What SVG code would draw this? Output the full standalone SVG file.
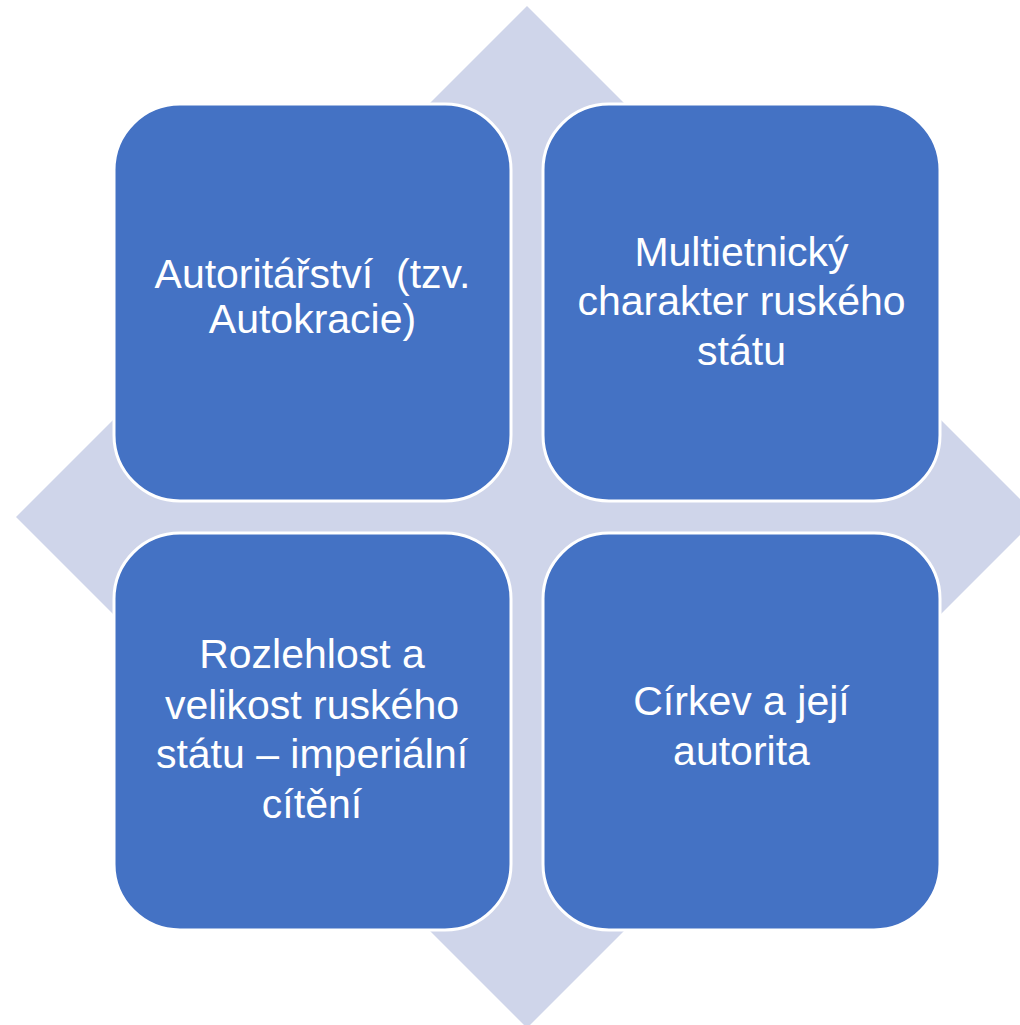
<svg xmlns="http://www.w3.org/2000/svg" width="1020" height="1025" viewBox="0 0 1020 1025">
<style>
.bg{fill:#CFD5EA}
.box{fill:#4472C4;stroke:#FFFFFF;stroke-width:3}
.t{fill:#FFFFFF;font-family:"Liberation Sans","DejaVu Sans",sans-serif;font-size:41px;text-anchor:middle;white-space:pre}
</style>
<rect width="1020" height="1025" fill="#FFFFFF"/>
<g id="diamond"><polygon class="bg" points="527,6 1038,517 527,1028 16,517"/></g>
<g id="connectors"></g>
<g id="node1">
<rect class="box" x="114" y="104" width="397" height="397" rx="66" ry="66"/>
<text class="t" xml:space="preserve"><tspan x="312.5" y="288">Autoritářství  (tzv.</tspan><tspan x="312.5" y="333">Autokracie)</tspan></text>
</g>
<g id="node2">
<rect class="box" x="543" y="104" width="397" height="397" rx="66" ry="66"/>
<text class="t"><tspan x="741.5" y="266">Multietnický</tspan><tspan x="741.5" y="315">charakter ruského</tspan><tspan x="741.5" y="365">státu</tspan></text>
</g>
<g id="node3">
<rect class="box" x="114" y="533" width="397" height="397" rx="66" ry="66"/>
<text class="t"><tspan x="312" y="668">Rozlehlost a</tspan><tspan x="312" y="719">velikost ruského</tspan><tspan x="312" y="768">státu – imperiální</tspan><tspan x="312" y="818">cítění</tspan></text>
</g>
<g id="node4">
<rect class="box" x="543" y="533" width="397" height="397" rx="66" ry="66"/>
<text class="t"><tspan x="741.5" y="715">Církev a její</tspan><tspan x="741.5" y="765">autorita</tspan></text>
</g>
</svg>
